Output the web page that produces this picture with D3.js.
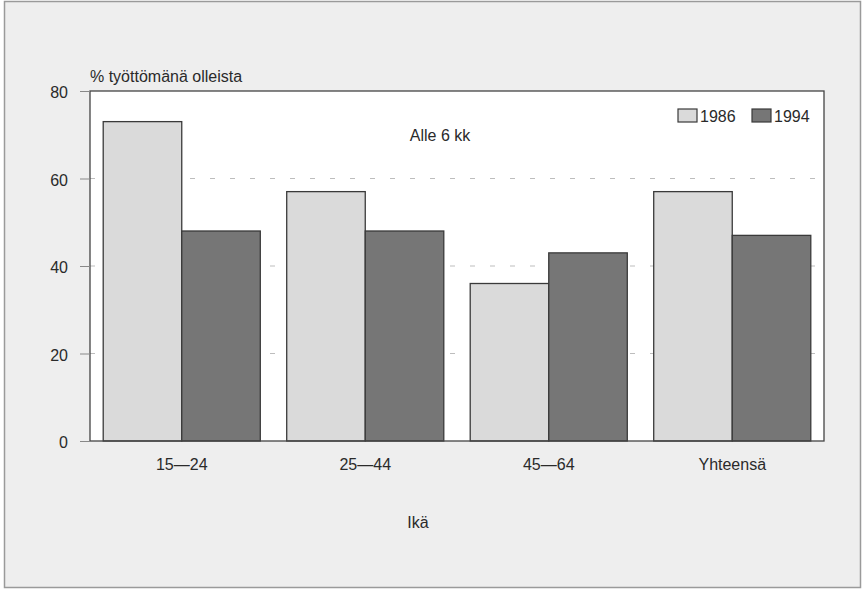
<!DOCTYPE html>
<html><head><meta charset="utf-8">
<script src="https://cdn.jsdelivr.net/npm/d3@7"></script>
<style>body{margin:0;background:#fff}svg{display:block}text{font-family:"Liberation Sans",Arial,sans-serif;fill:#2a2a2a}</style>
</head><body><svg id="c" width="862" height="590"></svg>
<script>
const categories = ["15—24", "25—44", "45—64", "Yhteensä"];
const seriesNames = ["1986", "1994"];
const values1986 = [73, 57, 36, 57];
const values1994 = [48, 48, 43, 47];
const yTicks = [0, 20, 40, 60, 80];
const yTitle = "% työttömänä olleista";
const xTitle = "Ikä";
const note = "Alle 6 kk";

const svg = d3.select("#c");
const W = 862, H = 590;
const m = {left: 90, right: 38, top: 91, bottom: 149};
const pw = W - m.left - m.right, ph = H - m.top - m.bottom;
const colors = ["#dadada", "#767676"];

svg.append("rect").attr("x", 4.5).attr("y", 1.5).attr("width", W - 6).attr("height", H - 4)
  .attr("fill", "#eeeeee").attr("stroke", "#9a9a9a").attr("stroke-width", 1.5);

const g = svg.append("g").attr("transform", `translate(${m.left},${m.top})`);
g.append("rect").attr("width", pw).attr("height", ph).attr("fill", "#fff");

const x0 = d3.scaleBand().domain(categories).range([0, pw]).paddingInner(0.144).paddingOuter(0.072);
const x1 = d3.scaleBand().domain(seriesNames).range([0, x0.bandwidth()]);
const y = d3.scaleLinear().domain([0, 80]).range([ph, 0]);

// grid
g.selectAll(".grid").data(yTicks.filter(t => t > 0 && t < 80)).join("line")
  .attr("x1", 0).attr("x2", pw).attr("y1", d => y(d)).attr("y2", d => y(d))
  .attr("stroke", "#bdbdbd").attr("stroke-width", 1).attr("stroke-dasharray", "5,15");

const data = categories.map((c, i) => ({c, v: [values1986[i], values1994[i]]}));
const grp = g.selectAll(".grp").data(data).join("g").attr("transform", d => `translate(${x0(d.c)},0)`);
grp.selectAll("rect").data(d => d.v.map((v, j) => ({s: seriesNames[j], v, j}))).join("rect")
  .attr("x", d => x1(d.s)).attr("width", x1.bandwidth())
  .attr("y", d => y(d.v)).attr("height", d => y(0) - y(d.v))
  .attr("fill", d => colors[d.j]).attr("stroke", "#3a3a3a").attr("stroke-width", 1.3);

// frame
g.append("rect").attr("width", pw).attr("height", ph).attr("fill", "none")
  .attr("stroke", "#444").attr("stroke-width", 1.3);

// y axis
const ya = d3.axisLeft(y).tickValues(yTicks).tickSize(10).tickPadding(12);
const yg = g.append("g").call(ya);
yg.select(".domain").remove();
yg.selectAll("line").attr("stroke", "#888");
yg.selectAll("text").attr("font-size", 16).attr("fill", "#2a2a2a").attr("dy", "0.42em");

// x axis
const xa = d3.axisBottom(x0).tickSize(0).tickPadding(18);
const xg = g.append("g").attr("transform", `translate(0,${ph})`).call(xa);
xg.select(".domain").remove();
xg.selectAll("text").attr("font-size", 16).attr("fill", "#2a2a2a");

// titles
svg.append("text").attr("x", 90).attr("y", 82).attr("font-size", 16).text(yTitle);
svg.append("text").attr("x", 418).attr("y", 528).attr("text-anchor", "middle").attr("font-size", 16).text(xTitle);
g.append("text").attr("x", 350).attr("y", 50)
  .attr("text-anchor", "middle").attr("font-size", 16).text(note);

// legend
const lx = [588, 662];
seriesNames.forEach((s, i) => {
  const lg = g.append("g").attr("transform", `translate(${lx[i]},18)`);
  lg.append("rect").attr("width", 19).attr("height", 13).attr("fill", colors[i]).attr("stroke", "#3a3a3a").attr("stroke-width", 1.2);
  lg.append("text").attr("x", 22).attr("y", 13).attr("font-size", 16).text(s);
});
</script></body></html>
